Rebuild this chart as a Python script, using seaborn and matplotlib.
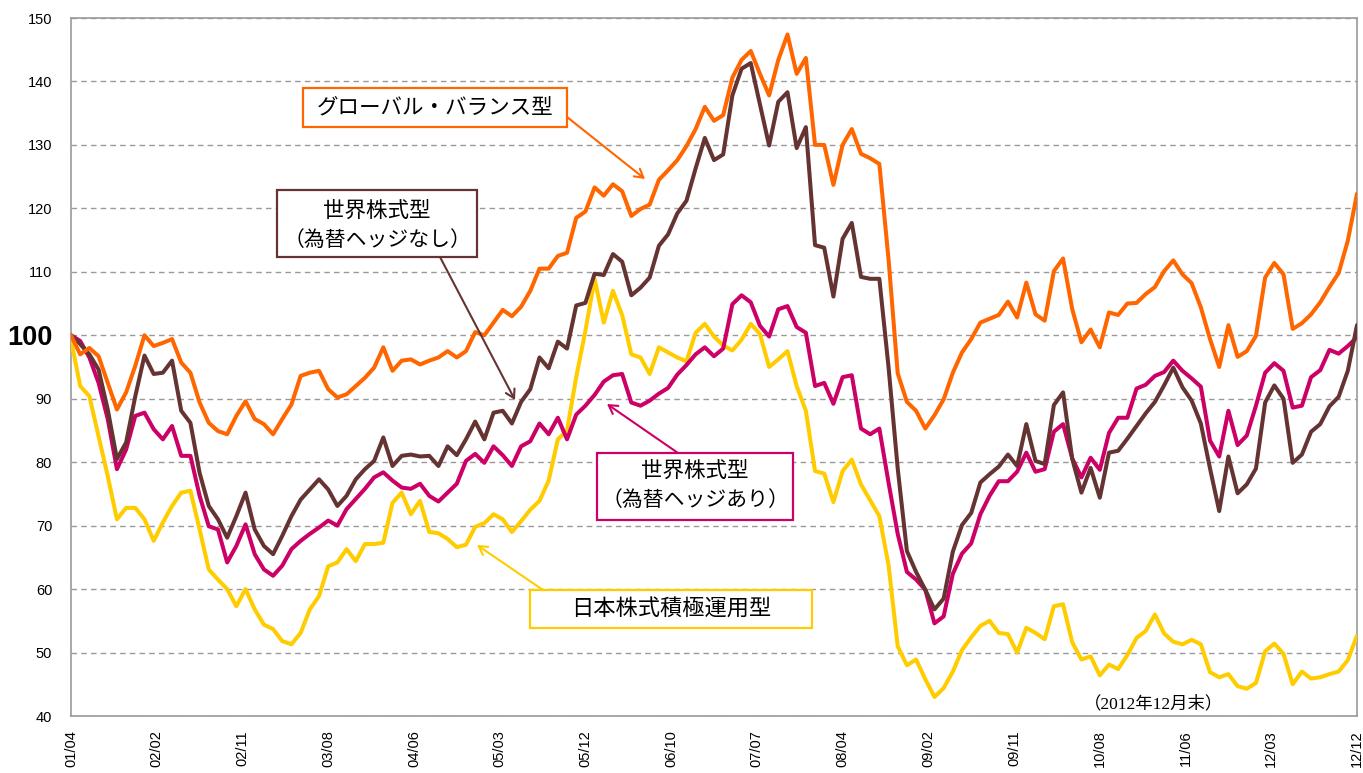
import numpy as np
import pandas as pd
import matplotlib
matplotlib.use("Agg")
import matplotlib.pyplot as plt
from matplotlib.patches import Rectangle, FancyArrowPatch
import seaborn as sns

# ---------------- data (monthly, 2001/04 .. 2012/12) ----------------
tick_labels = ["01/04", "02/02", "02/11", "03/08", "04/06", "05/03", "05/12", "06/10",
               "07/07", "08/04", "09/02", "09/11", "10/08", "11/06", "12/03", "12/12"]

global_balance = [
    100, 97, 98, 96.7, 92.5, 88.3, 91, 95.2, 100, 98.3, 98.8, 99.4, 95.7, 94.1, 89.4, 86.2,
    84.9, 84.4, 87.3, 89.6, 86.8, 86.0, 84.4, 86.8, 89.1, 93.6, 94.1, 94.4, 91.5, 90.2, 90.7,
    92.0, 93.3, 94.9, 98.1, 94.4, 96.0, 96.2, 95.4, 96.0, 96.5, 97.5, 96.5, 97.5, 100.5, 100,
    102, 104, 103, 104.5, 107, 110.5, 110.5, 112.5, 113, 118.5, 119.5, 123.3, 122, 123.8,
    122.7, 118.8, 119.9, 120.6, 124.5, 126, 127.6, 129.8, 132.5, 136, 133.8, 134.7, 140.6,
    143.4, 144.8, 141.2, 137.8, 143.4, 147.4, 141.2, 143.7, 130, 130, 123.7, 130, 132.5,
    128.6, 127.9, 127, 112, 94, 89.5, 88.1, 85.3, 87.4, 89.9, 94.1, 97.3, 99.4, 102, 102.6,
    103.2, 105.3, 102.8, 108.3, 103.3, 102.3, 110.1, 112.1, 104.1, 98.9, 100.9, 98.1, 103.6,
    103.2, 105, 105.1, 106.5, 107.6, 110.1, 111.8, 109.6, 108.2, 104.4, 99.4, 95, 101.6,
    96.6, 97.5, 99.9, 109.1, 111.4, 109.6, 101, 101.9, 103.3, 105.2, 107.6, 109.8, 114.9,
    122.3]

world_unhedged = [
    100, 98.6, 97, 94.6, 88.3, 80.5, 83.1, 90.4, 96.8, 93.9, 94.1, 96, 88.1, 86.2, 78.3,
    73.1, 71, 68.1, 71.5, 75.2, 69.4, 66.8, 65.5, 68.4, 71.5, 74.1, 75.7, 77.3, 75.7, 73.1,
    74.7, 77.3, 78.9, 80.2, 83.9, 79.4, 81.0, 81.2, 80.9, 81.0, 79.4, 82.5, 81.1, 83.6, 86.4,
    83.6, 87.8, 88.1, 86.1, 89.5, 91.5, 96.5, 94.8, 99, 97.9, 104.7, 105.1, 109.7, 109.5,
    112.8, 111.6, 106.3, 107.5, 109.1, 114.1, 115.9, 119.2, 121.2, 126.3, 131.1, 127.6,
    128.5, 137.8, 142, 142.9, 136.4, 129.9, 136.8, 138.3, 129.5, 132.8, 114.2, 113.8, 106.1,
    115.2, 117.7, 109.2, 108.9, 108.9, 95, 79, 66, 62.7, 59.9, 56.8, 58.5, 65.9, 70.1, 72,
    76.8, 78.1, 79.3, 81.2, 79.4, 86, 80.2, 79.7, 89, 91, 80.5, 75.2, 79.1, 74.4, 81.5, 81.8,
    83.7, 85.7, 87.7, 89.5, 92.1, 94.9, 91.8, 89.7, 86.1, 79, 72.3, 80.9, 75.1, 76.5, 79,
    89.4, 92.1, 90, 79.9, 81.2, 84.8, 86, 88.8, 90.3, 94.4, 101.6]

world_hedged = [
    100, 99.1, 96.5, 92.5, 86.8, 78.9, 82, 87.3, 87.8, 85.2, 83.6, 85.7, 81, 81, 74.7, 69.9,
    69.4, 64.2, 66.8, 70.2, 65.5, 63.1, 62.1, 63.7, 66.3, 67.6, 68.7, 69.7, 70.8, 70.0, 72.6,
    74.2, 75.8, 77.6, 78.4, 77.1, 76.0, 75.8, 76.6, 74.7, 73.8, 75.2, 76.6, 80.2, 81.3, 79.9,
    82.5, 81.1, 79.4, 82.5, 83.3, 86.1, 84.4, 87, 83.6, 87.5, 88.9, 90.6, 92.7, 93.7, 93.9,
    89.4, 88.9, 89.7, 90.8, 91.7, 93.8, 95.3, 97, 98.1, 96.7, 97.9, 104.9, 106.3, 105.2,
    101.5, 99.8, 104.1, 104.6, 101.3, 100.4, 92, 92.5, 89.2, 93.4, 93.7, 85.3, 84.4, 85.3,
    76.8, 68.7, 62.7, 61.5, 59.9, 54.6, 55.7, 62.4, 65.6, 67.2, 71.8, 74.7, 77, 77, 78.5,
    81.5, 78.5, 78.9, 84.8, 86, 80.6, 77.6, 80.7, 78.8, 84.6, 87, 87, 91.6, 92.2, 93.6, 94.2,
    96, 94.4, 93.2, 91.9, 83.4, 80.9, 88.1, 82.7, 84.2, 88.9, 94.1, 95.6, 94.4, 88.6, 88.9,
    93.4, 94.5, 97.7, 97.1, 98.3, 99.7]

japan_active = [
    99.3, 92, 90.4, 84.1, 77.8, 71, 72.8, 72.8, 71, 67.6, 70.5, 73.1, 75.2, 75.5, 69.4, 63.1,
    61.5, 60, 57.3, 60, 56.8, 54.4, 53.7, 51.8, 51.3, 53.1, 56.8, 58.9, 63.6, 64.2, 66.3,
    64.4, 67.1, 67.1, 67.3, 73.6, 75.2, 71.8, 73.9, 69, 68.8, 67.9, 66.6, 67, 69.8, 70.4,
    71.8, 71, 69, 70.7, 72.5, 73.9, 77.1, 83.6, 85, 93.4, 100.7, 108.9, 102, 107, 103.2, 97,
    96.5, 93.9, 98.1, 97.3, 96.5, 95.9, 100.4, 101.8, 99.8, 98.4, 97.6, 99.3, 101.8, 100.2,
    95, 96.2, 97.5, 92, 88.1, 78.6, 78.2, 73.7, 78.6, 80.4, 76.5, 74, 71.5, 63.8, 51, 48,
    48.9, 45.8, 43, 44.4, 47, 50.4, 52.4, 54.2, 55, 53.1, 52.9, 50, 53.9, 53.1, 52.1, 57.3,
    57.6, 51.6, 48.9, 49.4, 46.4, 48.1, 47.4, 49.6, 52.3, 53.4, 56, 53, 51.7, 51.3, 52, 51.3,
    46.9, 46.1, 46.6, 44.7, 44.3, 45.2, 50.2, 51.4, 49.8, 45, 47, 45.9, 46.1, 46.6, 47, 48.8,
    52.7]

series_names = ["日本株式積極運用型", "世界株式型（為替ヘッジあり）",
                "世界株式型（為替ヘッジなし）", "グローバル・バランス型"]
series_values = [japan_active, world_hedged, world_unhedged, global_balance]
colors = ["#FFCC00", "#CC0066", "#663333", "#FF6600"]

months = np.arange(len(global_balance))
df = pd.concat([pd.DataFrame({"month": months, "value": v, "series": n})
                for n, v in zip(series_names, series_values)], ignore_index=True)

# ---------------- figure ----------------
W, H = 1363, 773
sns.set_style("white")
plt.rcParams["font.family"] = ["Liberation Sans", "Noto Sans CJK JP", "DejaVu Sans"]

fig = plt.figure(figsize=(W / 100, H / 100), dpi=100)
ax = fig.add_axes([71 / W, 1 - 716 / H, (1357 - 71) / W, (716 - 18) / H])

sns.lineplot(data=df, x="month", y="value", hue="series", hue_order=series_names,
             palette=dict(zip(series_names, colors)), linewidth=2.9, legend=False,
             ax=ax, zorder=3)

ax.set_xlim(0, months[-1])
ax.set_ylim(40, 150)
ax.set_xlabel("")
ax.set_ylabel("")

yt = np.arange(40, 151, 10)
ax.set_yticks(yt)
ax.set_yticklabels([str(v) for v in yt], fontsize=10.5)
for lab in ax.get_yticklabels():
    if lab.get_text() == "100":
        lab.set_fontsize(19.5)
        lab.set_fontweight("bold")

xt = np.linspace(0, months[-1], len(tick_labels))
ax.set_xticks(xt)
ax.set_xticklabels(tick_labels, rotation=90, fontsize=10.5, va="top")

ax.tick_params(axis="both", direction="out", length=5.5, width=1, color="#999999",
               labelcolor="black")
ax.tick_params(axis="x", pad=4.5)
ax.tick_params(axis="y", pad=8)

ax.grid(axis="y", color="#999999", linestyle=(0, (4, 3)), linewidth=1)
ax.grid(axis="x", visible=False)
for s in ax.spines.values():
    s.set_color("#999999")
    s.set_linewidth(1.2)
    s.set_visible(True)


# ---------------- annotations (figure pixel layout) ----------------
def fp(x, y):
    return (x / W, 1 - y / H)


def box(x0, y0, x1, y1, color):
    fig.add_artist(Rectangle(fp(x0, y1), (x1 - x0) / W, (y1 - y0) / H,
                             transform=fig.transFigure, facecolor="white",
                             edgecolor=color, linewidth=1.6, zorder=10))


def txt(x, y, s, size):
    fig.text(*fp(x, y), s, ha="center", va="center", fontsize=size,
             family=["Noto Sans CJK JP", "DejaVu Sans"], color="black", zorder=11)


def arrow(x0, y0, x1, y1, color):
    fig.add_artist(FancyArrowPatch(fp(x0, y0), fp(x1, y1), transform=fig.transFigure,
                                   arrowstyle="->,head_length=6,head_width=3.5",
                                   color=color, linewidth=1.5, zorder=9,
                                   shrinkA=0, shrinkB=0))


# Global balance
box(303, 88, 567, 127, "#FF6600")
txt(435, 107, "グローバル・バランス型", 15.5)
arrow(567, 117, 645, 179, "#FF6600")

# World unhedged
box(277, 190, 477, 257, "#663333")
txt(377, 211, "世界株式型", 15.5)
txt(377, 240, "（為替ヘッジなし）", 15)
arrow(440, 257, 515, 400, "#663333")

# World hedged
box(597, 453, 793, 520, "#CC0066")
txt(695, 471, "世界株式型", 15.5)
txt(695, 500, "（為替ヘッジあり）", 15)
arrow(678, 453, 607, 404, "#CC0066")

# Japan active
box(530, 590, 812, 628, "#FFCC00")
txt(671, 609, "日本株式積極運用型", 16)
arrow(543, 590, 477, 545, "#FFCC00")

fig.text(*fp(1154, 704), "（2012年12月末）", ha="center", va="center", fontsize=12.5,
         family=["Liberation Serif", "Noto Sans CJK JP"], color="black")

fig.savefig("out.png", dpi=100)
